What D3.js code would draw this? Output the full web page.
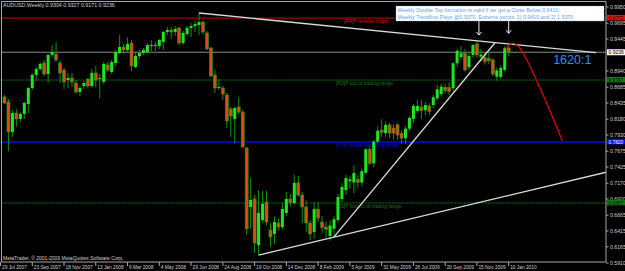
<!DOCTYPE html>
<html>
<head>
<meta charset="utf-8">
<script src="https://cdnjs.cloudflare.com/ajax/libs/d3/7.8.5/d3.min.js"></script>
<style>
body { margin: 0; background: #000; }
svg { display: block; font-family: Arial, "Liberation Sans", sans-serif; }
</style>
</head>
<body>
<svg width="625" height="271"></svg>
<script>
// weekly bars, 29 Jul 2007 .. 10 Jan 2010
var opens = [0.8482,0.8530,0.8451,0.7978,0.8277,0.8183,0.8262,0.8419,0.8672,0.8877,
  0.8972,0.9066,0.8893,0.9193,0.9208,0.9066,0.8956,0.8798,0.8830,0.8751,
  0.8609,0.8703,0.8814,0.8703,0.8909,0.8814,0.8767,0.9035,0.8924,0.9066,
  0.9224,0.9319,0.9271,0.9382,0.9003,0.9177,0.9224,0.9240,0.9335,0.9350,
  0.9335,0.9398,0.9556,0.9587,0.9556,0.9619,0.9382,0.9524,0.9619,0.9650,
  0.9666,0.9713,0.9540,0.9303,0.8877,0.8672,0.8672,0.8561,0.8340,0.8183,
  0.8372,0.8293,0.7725,0.6794,0.6920,0.6194,0.6589,0.6873,0.6430,0.6369,
  0.6541,0.6478,0.6700,0.6920,0.6857,0.7173,0.6983,0.6794,0.6541,0.6400,
  0.6760,0.6557,0.6478,0.6337,0.6450,0.6589,0.6920,0.7062,0.7200,0.7180,
  0.7230,0.7180,0.7335,0.7705,0.7483,0.7825,0.8009,0.7960,0.8090,0.8040,
  0.8090,0.7955,0.7880,0.8030,0.8183,0.8310,0.8370,0.8320,0.8388,0.8403,
  0.8510,0.8577,0.8680,0.8680,0.8667,0.9061,0.9160,0.9220,0.9000,0.9193,
  0.9366,0.9166,0.9150,0.9140,0.9114,0.8850,0.8845,0.8956,0.9304];
var highs = [0.8640,0.8561,0.8498,0.8325,0.8340,0.8293,0.8451,0.8688,0.8909,0.9003,
  0.9082,0.9114,0.9208,0.9350,0.9398,0.9114,0.8987,0.8909,0.8909,0.8798,
  0.8703,0.8782,0.8830,0.8972,0.9019,0.8893,0.9082,0.9082,0.9114,0.9271,
  0.9508,0.9366,0.9466,0.9429,0.9240,0.9271,0.9303,0.9382,0.9429,0.9398,
  0.9445,0.9571,0.9634,0.9634,0.9650,0.9634,0.9571,0.9650,0.9697,0.9729,
  0.9855,0.9729,0.9571,0.9319,0.8956,0.8814,0.8703,0.8593,0.8372,0.8372,
  0.8530,0.8325,0.7741,0.7252,0.6983,0.7062,0.7046,0.7046,0.6541,0.6636,
  0.6610,0.6860,0.7030,0.7000,0.7299,0.7283,0.7030,0.6900,0.6589,0.6873,
  0.6873,0.6650,0.6560,0.6580,0.6650,0.7000,0.7173,0.7300,0.7290,0.7450,
  0.7300,0.7400,0.7720,0.7750,0.7850,0.8060,0.8180,0.8140,0.8120,0.8100,
  0.8120,0.8000,0.8070,0.8230,0.8420,0.8482,0.8482,0.8450,0.8430,0.8560,
  0.8720,0.8740,0.8740,0.8760,0.9080,0.9290,0.9330,0.9290,0.9220,0.9370,
  0.9406,0.9290,0.9230,0.9250,0.9150,0.8990,0.9030,0.9330,0.9327];
var lows = [0.8466,0.8419,0.7678,0.7899,0.8057,0.8135,0.8183,0.8277,0.8640,0.8782,
  0.8940,0.8861,0.8751,0.9161,0.9082,0.8751,0.8656,0.8672,0.8688,0.8577,
  0.8546,0.8656,0.8672,0.8672,0.8688,0.8514,0.8735,0.8924,0.8893,0.9019,
  0.9208,0.9208,0.9224,0.8940,0.8987,0.9130,0.9193,0.9208,0.9256,0.9256,
  0.9287,0.9271,0.9508,0.9445,0.9492,0.9350,0.9350,0.9492,0.9477,0.9556,
  0.9508,0.9524,0.9271,0.8846,0.8593,0.8640,0.8482,0.8041,0.7899,0.7804,
  0.8262,0.7725,0.6352,0.6447,0.6068,0.6036,0.6557,0.6510,0.6163,0.6210,
  0.6420,0.6440,0.6650,0.6800,0.6826,0.6950,0.6541,0.6400,0.6273,0.6290,
  0.6560,0.6380,0.6300,0.6260,0.6321,0.6550,0.6870,0.6980,0.7080,0.7010,
  0.7100,0.7120,0.7300,0.7450,0.7420,0.7800,0.7900,0.7900,0.7880,0.7860,
  0.7850,0.7790,0.7790,0.7990,0.8120,0.8280,0.8180,0.8240,0.8250,0.8350,
  0.8480,0.8540,0.8580,0.8560,0.8610,0.9000,0.9120,0.8930,0.8960,0.9150,
  0.9150,0.9080,0.9040,0.9050,0.8860,0.8787,0.8820,0.8930,0.9171];
var closes = [0.8546,0.8435,0.7978,0.8277,0.8183,0.8262,0.8435,0.8672,0.8877,0.8972,
  0.9051,0.8893,0.9193,0.9240,0.9114,0.8909,0.8767,0.8830,0.8767,0.8609,
  0.8672,0.8751,0.8703,0.8909,0.8798,0.8830,0.9051,0.8956,0.9082,0.9240,
  0.9319,0.9271,0.9366,0.9019,0.9177,0.9224,0.9271,0.9350,0.9350,0.9335,
  0.9429,0.9556,0.9587,0.9556,0.9603,0.9382,0.9540,0.9619,0.9650,0.9681,
  0.9713,0.9556,0.9287,0.8861,0.8672,0.8688,0.8577,0.8151,0.8230,0.8356,
  0.8293,0.7741,0.6447,0.6905,0.6226,0.6700,0.6841,0.6557,0.6321,0.6557,
  0.6478,0.6762,0.6920,0.6860,0.7173,0.6983,0.6794,0.6541,0.6369,0.6760,
  0.6620,0.6470,0.6440,0.6500,0.6600,0.6952,0.7110,0.7252,0.7230,0.7330,
  0.7180,0.7360,0.7705,0.7483,0.7825,0.7998,0.7967,0.8090,0.7960,0.7960,
  0.7930,0.7880,0.8030,0.8200,0.8388,0.8388,0.8316,0.8403,0.8300,0.8525,
  0.8650,0.8692,0.8630,0.8615,0.9061,0.9260,0.9220,0.8956,0.9177,0.9350,
  0.9193,0.9200,0.9090,0.9100,0.8893,0.8950,0.8987,0.9300,0.9236];

var dateLabels = ["29 Jul 2007","23 Sep 2007","18 Nov 2007","13 Jan 2008","9 Mar 2008",
  "4 May 2008","29 Jun 2008","24 Aug 2008","19 Oct 2008","14 Dec 2008","8 Feb 2009",
  "5 Apr 2009","31 May 2009","26 Jul 2009","20 Sep 2009","15 Nov 2009","10 Jan 2010"];
var priceTicks = [0.9950,0.9695,0.9445,0.8940,0.8685,0.8435,0.8180,0.7930,0.7675,
  0.7425,0.7170,0.6920,0.6665,0.6415,0.6165,0.5910];

var levelPrices = [0.9775, 0.8797, 0.7820, 0.6857];
var levelNames = ["[R4]P reverse major", "[R3]P top of trading range",
  "[PP]P break of trading range", "[S3]P bottom of trading range"];

// trendlines as [bar, price] pairs
var trendDown = [[50, 0.9855], [150, 0.9230]];
var trendLong = [[65, 0.6036], [153, 0.7350]];
var trendSteep = [[84, 0.6321], [124.5, 0.9382]];
var projection = [[127.3, 0.9290], [128.9, 0.9375], [130.6, 0.9318], [141.5, 0.7840]];
var arrowBars = [120.5, 128];

var svg = d3.select("svg"),
    width = +svg.attr("width"),
    height = +svg.attr("height");

var pLeft = 1.5, pRight = 606, pTop = 1.5, pBottom = 262;

var x = d3.scaleLinear().domain([0, 128]).range([0.5, 508.7]);
var y = d3.scaleLinear().domain([0.5910, 0.9950]).range([263, 7]);
var fmt = d3.format(".4f");

svg.append("rect").attr("width", width).attr("height", height).attr("fill", "#000");

svg.append("defs").append("clipPath").attr("id", "plot")
  .append("rect").attr("x", pLeft).attr("y", pTop)
  .attr("width", pRight - pLeft).attr("height", pBottom - pTop);

var plot = svg.append("g").attr("clip-path", "url(#plot)");

// level lines
var levelColor = ["#b81010", "#137a13", "#0808e8", "#137a13"];
plot.selectAll("line.level")
  .data(levelPrices)
  .enter().append("line")
    .attr("class", "level")
    .attr("x1", pLeft).attr("x2", pRight)
    .attr("y1", function(d) { return y(d); })
    .attr("y2", function(d) { return y(d); })
    .attr("stroke", function(d, i) { return levelColor[i]; })
    .attr("stroke-width", function(d, i) { return i == 2 ? 1.6 : 1; })
    .attr("stroke-dasharray", function(d, i) { return (i == 1 || i == 3) ? "2,1" : null; });

plot.selectAll("text.level")
  .data(levelPrices)
  .enter().append("text")
    .attr("x", function(d, i) { return x(i == 0 ? 86.5 : 84.5); })
    .attr("y", function(d) { return y(d) + 5; })
    .attr("font-size", 5)
    .attr("fill", function(d, i) { return i == 0 ? "#d81818" : levelColor[i]; })
    .text(function(d, i) { return levelNames[i]; });

// current price line
var last = closes.length - 1;
plot.append("line")
  .attr("x1", pLeft).attr("x2", pRight)
  .attr("y1", y(closes[last])).attr("y2", y(closes[last]))
  .attr("stroke", "#8a8a8a").attr("stroke-width", 1);

// candles
var bars = plot.append("g").selectAll("g")
  .data(d3.range(opens.length))
  .enter().append("g");

bars.append("line")
  .attr("x1", function(i) { return x(i); })
  .attr("x2", function(i) { return x(i); })
  .attr("y1", function(i) { return y(highs[i]); })
  .attr("y2", function(i) { return y(lows[i]); })
  .attr("stroke", "#0f900f").attr("stroke-width", 1);

bars.append("rect")
  .attr("x", function(i) { return x(i) - 1.5; })
  .attr("width", 3)
  .attr("y", function(i) { return y(Math.max(opens[i], closes[i])); })
  .attr("height", function(i) { return Math.max(1, Math.abs(y(opens[i]) - y(closes[i]))); })
  .attr("fill", function(i) { return closes[i] >= opens[i] ? "#1ee61e" : "#e8441c"; })
  .attr("stroke", function(i) { return closes[i] >= opens[i] ? "none" : "#14a014"; })
  .attr("stroke-width", 0.6);

// trendlines
var line = d3.line()
  .x(function(d) { return x(d[0]); })
  .y(function(d) { return y(d[1]); });

[trendDown, trendLong, trendSteep].forEach(function(t) {
  plot.append("path").attr("d", line(t))
    .attr("fill", "none").attr("stroke", "#dcdcdc").attr("stroke-width", 1.3);
});

plot.append("path")
  .attr("d", line.curve(d3.curveCatmullRom)(projection))
  .attr("fill", "none").attr("stroke", "#e80000").attr("stroke-width", 1.2);

// arrows
arrowBars.forEach(function(b, k) {
  var ax = x(b), y0 = y(0.9730), y1 = y(k == 0 ? 0.9508 : 0.9535);
  plot.append("line").attr("x1", ax).attr("x2", ax).attr("y1", y0).attr("y2", y1)
    .attr("stroke", "#f0f0f0").attr("stroke-width", 1);
  plot.append("path")
    .attr("d", "M" + (ax - 2.5) + "," + (y1 - 3) + "L" + ax + "," + y1 + "L" + (ax + 2.5) + "," + (y1 - 3))
    .attr("fill", "none").attr("stroke", "#f0f0f0").attr("stroke-width", 1);
});

// note box
svg.append("rect")
  .attr("x", 396).attr("y", 6).attr("width", 208).attr("height", 15)
  .attr("fill", "#fff").attr("stroke", "#9db4d6").attr("stroke-width", 0.6)
  .attr("stroke-dasharray", "1,1");
svg.append("text").attr("x", 397.5).attr("y", 12).attr("font-size", 5.3).attr("fill", "#5fa0e6")
  .text("Weekly Double Top formation is valid if we get a Close Below 0.9410.");
svg.append("text").attr("x", 397.5).attr("y", 19).attr("font-size", 5.3).attr("fill", "#5fa0e6")
  .text("Weekly Trendline Plays @0.9370. Extreme points: 1) 0.9410 and 2) 1.9370");

svg.append("text")
  .attr("x", x(139.2)).attr("y", y(0.9050))
  .attr("font-size", 12.5).attr("fill", "#2090ff")
  .text("1620:1");

// frame
svg.append("path")
  .attr("d", "M" + pLeft + "," + pBottom + "V" + pTop + "H" + pRight + "V" + pBottom + "Z")
  .attr("fill", "none").attr("stroke", "#a8a8a8").attr("stroke-width", 1);

// price axis
svg.selectAll("line.ptick").data(priceTicks).enter().append("line")
  .attr("x1", pRight).attr("x2", pRight + 2.5)
  .attr("y1", function(d) { return y(d); }).attr("y2", function(d) { return y(d); })
  .attr("stroke", "#a8a8a8");
svg.selectAll("text.ptick").data(priceTicks).enter().append("text")
  .attr("x", 610).attr("y", function(d) { return y(d) + 1.8; })
  .attr("font-size", 5.2).attr("fill", "#cfcfcf")
  .text(function(d) { return fmt(d); });

var boxFill = ["#e01010", "#0f7a0f", "#0a0aee", "#0f7a0f"];
levelPrices.forEach(function(p, i) {
  svg.append("rect").attr("x", pRight + 1).attr("y", y(p) - 3.2).attr("width", 18).attr("height", 5.6)
    .attr("fill", boxFill[i]);
  svg.append("text").attr("x", pRight + 2.5).attr("y", y(p) + 1.7).attr("font-size", 4.8)
    .attr("fill", i == 2 ? "#fff" : "#111").text(fmt(p));
});
svg.append("rect").attr("x", pRight + 1).attr("y", y(closes[last]) - 3).attr("width", 18).attr("height", 6)
  .attr("fill", "#f4f4f4");
svg.append("text").attr("x", pRight + 2.5).attr("y", y(closes[last]) + 2).attr("font-size", 5)
  .attr("fill", "#000").text(fmt(closes[last]));

// time axis
var tickBars = dateLabels.map(function(d, k) { return k * 8; });
svg.selectAll("line.ttick").data(tickBars).enter().append("line")
  .attr("x1", function(d) { return x(d); }).attr("x2", function(d) { return x(d); })
  .attr("y1", pBottom).attr("y2", pBottom + 4)
  .attr("stroke", "#a8a8a8");
svg.selectAll("text.ttick").data(tickBars).enter().append("text")
  .attr("x", function(d) { return x(d) + 1.5; })
  .attr("y", 269)
  .attr("font-size", 4.8).attr("fill", "#cfcfcf")
  .text(function(d, k) { return dateLabels[k]; });

// header and credit
svg.append("text").attr("x", 3).attr("y", 7).attr("font-size", 5.3).attr("fill", "#cfcfcf")
  .text("AUDUSD,Weekly  " + [opens[last], highs[last], lows[last], closes[last]].map(fmt).join(" "));
svg.append("text").attr("x", 3).attr("y", 259.5).attr("font-size", 5).attr("fill", "#cfcfcf")
  .text("MetaTrader, \u00a9 2001-2009 MetaQuotes Software Corp.");
</script>
</body>
</html>
